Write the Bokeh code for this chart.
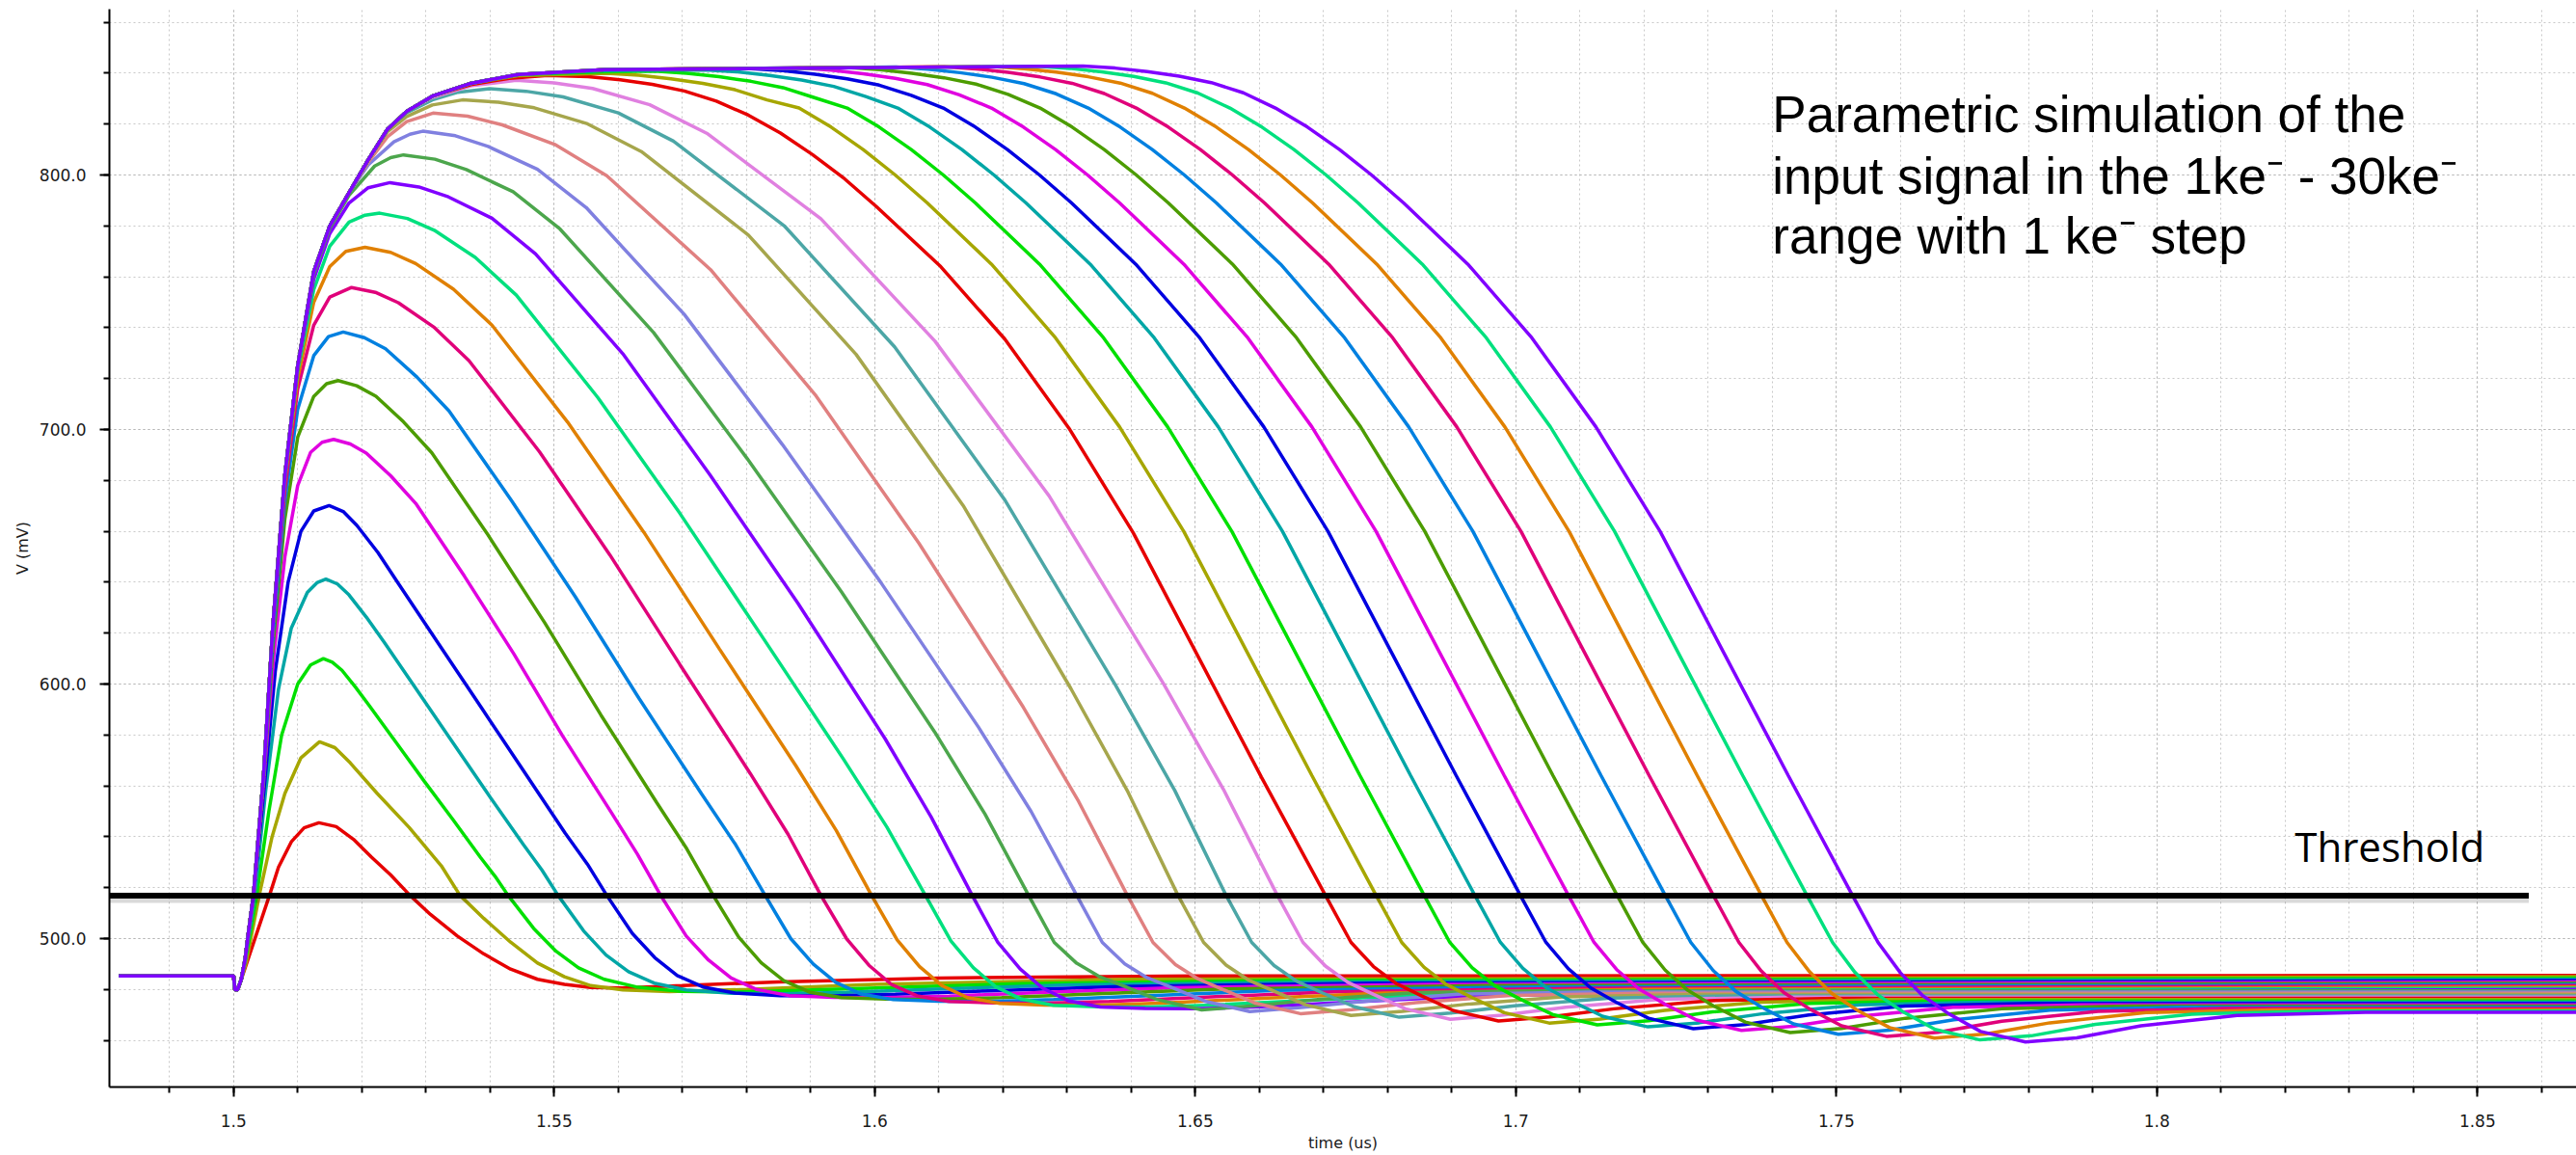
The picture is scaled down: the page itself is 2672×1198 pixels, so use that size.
from bokeh.plotting import figure
from bokeh.models import Range1d, SingleIntervalTicker, CustomJSTickFormatter, PrintfTickFormatter, Label
from bokeh.embed import file_html
from bokeh.resources import INLINE

# ---------------- data (time in us, voltage in mV) ----------------
base_t = [1.4821, 1.5000, 1.5002, 1.5006, 1.5012]
base_v = [485.3, 485.3, 480.0, 479.8, 484.0]
rise_t = [1.5018, 1.5024, 1.5031, 1.5047, 1.5061, 1.5080, 1.5100, 1.5125, 1.5150, 1.5180, 1.5210, 1.5240, 1.5270, 1.5310]
rise_v = [492, 504, 517, 565, 622, 682, 725, 762, 780, 793, 806, 818, 825, 831]

q01_t = base_t + [1.5020, 1.5032, 1.5044, 1.5056, 1.5070, 1.5090, 1.5110, 1.5133, 1.5160, 1.5187, 1.5215, 1.5245, 1.5275, 1.5307, 1.5349, 1.5390, 1.5432, 1.5474, 1.5516, 1.5557, 1.5607, 1.5700, 1.5850, 1.6100, 1.6500, 1.8654]
q01_v = base_v + [490, 499, 508, 517, 528, 538, 543.5, 545.5, 544, 539, 532, 525, 517, 509.5, 501, 494, 488, 484, 482, 480.8, 480.6, 481.5, 483, 484.5, 485.3, 485.5]
q02_t = base_t + [1.5020, 1.5030, 1.5040, 1.5060, 1.5080, 1.5105, 1.5134, 1.5158, 1.5182, 1.5224, 1.5274, 1.5324, 1.5353, 1.5390, 1.5432, 1.5474, 1.5516, 1.5557, 1.5607, 1.5680, 1.5800, 1.6000, 1.6400, 1.8654]
q02_v = base_v + [491, 504, 517, 540, 557, 571, 577.3, 575, 569, 557, 543.6, 528.6, 517, 508, 498.6, 490.4, 485, 481.5, 479.8, 479.2, 480, 482, 484, 485]
q03_t = base_t + [1.5018, 1.5026, 1.5036, 1.5055, 1.5075, 1.5100, 1.5120, 1.5140, 1.5154, 1.5169, 1.5190, 1.5212, 1.5255, 1.5298, 1.5342, 1.5385, 1.5408, 1.5428,
                  1.5468, 1.5503, 1.5538, 1.5578, 1.5628, 1.5698, 1.5778, 1.5878, 1.6028, 1.6228, 1.6628, 1.8654]
q03_v = base_v + [491, 502, 517, 550, 580, 600, 607.5, 610, 608.6, 605.4, 598.8, 591.4, 576.5, 561.6, 546.8, 531.9, 524.4, 517,
                  504, 495, 488.5, 484, 481, 479.3, 479, 479.6, 480.8, 482.3, 483.5, 484.5]
q04_t = base_t + [1.5018, 1.5025, 1.5033, 1.5050, 1.5070, 1.5090, 1.5115, 1.5130, 1.5144, 1.5162, 1.5180, 1.5207, 1.5235, 1.5289, 1.5343, 1.5397, 1.5452, 1.5481, 1.5506,
                  1.5546, 1.5581, 1.5616, 1.5656, 1.5706, 1.5776, 1.5856, 1.5956, 1.6106, 1.6306, 1.6706, 1.8654]
q04_v = base_v + [491.5, 503, 517, 558, 598, 622, 636, 639.8, 641.2, 639.3, 635.0, 626.3, 616.4, 596.5, 576.6, 556.7, 536.9, 526.9, 517,
                  503, 493.5, 487, 482.5, 479.8, 478.5, 478.3, 478.9, 480.2, 481.8, 483, 484]
q05_t = base_t + [1.5018, 1.5024, 1.5031, 1.5048, 1.5065, 1.5085, 1.5105, 1.5125, 1.5149, 1.5171, 1.5192, 1.5225, 1.5257, 1.5322, 1.5387, 1.5452, 1.5517, 1.5552, 1.5582,
                  1.5622, 1.5657, 1.5692, 1.5732, 1.5782, 1.5852, 1.5932, 1.6032, 1.6182, 1.6382, 1.6782, 1.8654]
q05_v = base_v + [492, 504, 517, 560, 605, 640, 660, 668, 670.1, 667.8, 662.4, 651.7, 639.5, 615.0, 590.5, 566.0, 541.5, 529.2, 517,
                  502, 492.5, 485.5, 481, 478.6, 477.6, 477.5, 478.1, 479.5, 481.2, 482.5, 483.5]
q06_t = base_t + [1.5018, 1.5024, 1.5031, 1.5047, 1.5063, 1.5080, 1.5100, 1.5120, 1.5138, 1.5156, 1.5182, 1.5207, 1.5245, 1.5284, 1.5360, 1.5437, 1.5513, 1.5590, 1.5630, 1.5666,
                  1.5706, 1.5741, 1.5776, 1.5816, 1.5866, 1.5936, 1.6016, 1.6116, 1.6266, 1.6466, 1.6866, 1.8654]
q06_v = base_v + [492, 504, 517, 562, 612, 650, 678, 691, 695, 696.1, 694.3, 690.7, 681.8, 671.0, 642.4, 611.9, 579.7, 549.2, 533.1, 517,
                  501, 491.5, 484.5, 480, 477.6, 476.9, 476.8, 477.4, 478.9, 480.7, 482, 483]
q07_t = base_t + [1.5018, 1.5024, 1.5031, 1.5047, 1.5062, 1.5080, 1.5100, 1.5125, 1.5145, 1.5163, 1.5192, 1.5222, 1.5265, 1.5309, 1.5397, 1.5485, 1.5573, 1.5660, 1.5707, 1.5748,
                  1.5788, 1.5823, 1.5858, 1.5898, 1.5948, 1.6018, 1.6098, 1.6198, 1.6348, 1.6548, 1.6948, 1.8654]
q07_v = base_v + [492, 504, 517, 564, 617, 665, 697, 713, 718, 719.2, 717.2, 713.1, 703.0, 690.9, 658.5, 624.2, 587.8, 553.4, 535.2, 517,
                  500.5, 490.5, 483.5, 479, 476.8, 476.2, 476.1, 476.8, 478.3, 480.2, 481.5, 482.5]
q08_t = base_t + [1.5018, 1.5024, 1.5031, 1.5047, 1.5062, 1.5080, 1.5100, 1.5125, 1.5148, 1.5171, 1.5204, 1.5237, 1.5286, 1.5336, 1.5434, 1.5533, 1.5632, 1.5730, 1.5783, 1.5829,
                  1.5869, 1.5904, 1.5939, 1.5979, 1.6029, 1.6099, 1.6179, 1.6279, 1.6429, 1.6629, 1.7029, 1.8654]
q08_v = base_v + [492, 504, 517, 565, 621, 672, 708, 729, 736.5, 738.3, 736.1, 731.7, 720.6, 707.3, 671.9, 634.3, 594.5, 556.8, 536.9, 517,
                  500, 490, 482.8, 478.2, 476, 475.4, 475.3, 476, 477.6, 479.6, 481, 482]
q09_t = base_t + [1.5018, 1.5024, 1.5031, 1.5047, 1.5061, 1.5080, 1.5100, 1.5125, 1.5150, 1.5184, 1.5221, 1.5257, 1.5312, 1.5367, 1.5477, 1.5587, 1.5696, 1.5806, 1.5865, 1.5916,
                  1.5956, 1.5991, 1.6026, 1.6066, 1.6116, 1.6186, 1.6266, 1.6366, 1.6516, 1.6716, 1.7116, 1.8654]
q09_v = base_v + [492, 504, 517, 565, 622, 676, 716, 741, 752, 755.8, 753.9, 749.8, 740.3, 727.1, 691.3, 650.7, 607.7, 564.8, 540.9, 517,
                  500, 489.5, 482, 477.5, 475.3, 474.7, 474.6, 475.3, 477, 479.1, 480.5, 481.5]
q10_t = base_t + [1.5018, 1.5024, 1.5031, 1.5047, 1.5061, 1.5080, 1.5100, 1.5125, 1.5150, 1.5175, 1.5205, 1.5245, 1.5284, 1.5343, 1.5403, 1.5521, 1.5640, 1.5758, 1.5877, 1.5940, 1.5995,
                  1.6035, 1.6070, 1.6105, 1.6145, 1.6195, 1.6265, 1.6345, 1.6445, 1.6595, 1.6795, 1.7195, 1.8654]
q10_v = base_v + [492, 504, 517, 565, 622, 680, 720, 750, 764, 770, 771.6, 769.6, 765.2, 755.1, 741.0, 702.9, 659.6, 613.7, 567.9, 542.5, 517,
                  499.5, 489, 481.5, 476.8, 474.5, 473.9, 473.8, 474.6, 476.4, 478.6, 480, 481]
q11_t = base_t + [1.5018, 1.5024, 1.5031, 1.5047, 1.5061, 1.5080, 1.5100, 1.5125, 1.5150, 1.5180, 1.5205, 1.5228, 1.5271, 1.5313, 1.5377, 1.5441, 1.5568, 1.5696, 1.5824, 1.5951, 1.6019, 1.6079,
                  1.6119, 1.6154, 1.6189, 1.6229, 1.6279, 1.6349, 1.6429, 1.6529, 1.6679, 1.6879, 1.7279, 1.8654]
q11_v = base_v + [492, 504, 517, 565, 622, 681, 723, 755, 772, 781.5, 784.2, 785, 782.9, 778.3, 767.6, 752.8, 712.6, 667.1, 618.8, 570.6, 543.8, 517,
                  499, 488.5, 481, 476.2, 473.8, 473.2, 473.1, 473.9, 475.8, 478.1, 479.5, 480.5]
q12_t = base_t + [1.5018, 1.5024, 1.5031, 1.5047, 1.5061, 1.5080, 1.5100, 1.5125, 1.5150, 1.5180, 1.5210, 1.5244, 1.5289, 1.5335, 1.5403, 1.5471, 1.5607, 1.5743, 1.5880, 1.6016, 1.6088, 1.6152,
                  1.6192, 1.6227, 1.6262, 1.6302, 1.6352, 1.6422, 1.6502, 1.6602, 1.6752, 1.6952, 1.7352, 1.8654]
q12_v = base_v + [492, 504, 517, 565, 622, 682, 725, 759, 777, 789, 795, 797, 795.3, 791.4, 783.0, 769.0, 729.8, 682.2, 631.8, 578.6, 547.8, 517,
                  498.5, 488, 480.5, 475.6, 473.1, 472.5, 472.4, 473.2, 475.2, 477.6, 479, 480]
q13_t = base_t + [1.5018, 1.5024, 1.5031, 1.5047, 1.5061, 1.5080, 1.5100, 1.5125, 1.5150, 1.5180, 1.5220, 1.5245, 1.5265, 1.5314, 1.5363, 1.5436, 1.5509, 1.5655, 1.5801, 1.5948, 1.6094, 1.6172, 1.6240,
                  1.6280, 1.6315, 1.6350, 1.6390, 1.6440, 1.6510, 1.6590, 1.6690, 1.6840, 1.7040, 1.8654]
q13_v = base_v + [492, 504, 517, 565, 622, 682, 725, 761, 779, 792, 803.5, 806.8, 807.9, 806.2, 802.1, 793.4, 778.8, 738.1, 688.6, 636.3, 581.0, 548.9, 517,
                  498.5, 490.3, 485.1, 481.2, 476.1, 472.0, 473.6, 476.0, 478.7, 479.5, 479.5]
q14_t = base_t + [1.5018, 1.5024, 1.5031, 1.5047, 1.5061, 1.5080, 1.5100, 1.5125, 1.5150, 1.5180, 1.5210, 1.5250, 1.5275, 1.5295, 1.5346, 1.5397, 1.5474, 1.5550, 1.5703, 1.5856, 1.6009, 1.6162, 1.6244, 1.6315,
                  1.6355, 1.6390, 1.6425, 1.6465, 1.6515, 1.6585, 1.6665, 1.6765, 1.6915, 1.7115, 1.8654]
q14_v = base_v + [492, 504, 517, 565, 622, 682, 725, 762, 780, 793, 804, 813, 816, 817.2, 815.4, 811.2, 802.2, 787.2, 745.2, 694.1, 640.1, 583.0, 549.9, 517,
                  498.5, 490.1, 484.6, 480.6, 475.4, 471.3, 472.9, 475.4, 478.2, 479.0, 479.0]
q15_t = base_t + [1.5018, 1.5024, 1.5031, 1.5047, 1.5061, 1.5080, 1.5100, 1.5125, 1.5150, 1.5180, 1.5210, 1.5240, 1.5270, 1.5311, 1.5365, 1.5419, 1.5501, 1.5582, 1.5744, 1.5907, 1.6069, 1.6232, 1.6318, 1.6394,
                  1.6434, 1.6469, 1.6504, 1.6544, 1.6594, 1.6664, 1.6744, 1.6844, 1.6994, 1.7194, 1.8654]
q15_v = base_v + [492, 504, 517, 565, 622, 682, 725, 762, 780, 793, 805, 815, 821, 824.3, 823.1, 819.7, 812.0, 799.7, 762.8, 713.7, 655.3, 590.8, 553.9, 517,
                  498.5, 489.8, 484.2, 479.9, 474.6, 470.5, 472.1, 474.8, 477.7, 478.5, 478.5]
q16_t = base_t + [1.5018, 1.5024, 1.5031, 1.5047, 1.5061, 1.5080, 1.5100, 1.5125, 1.5150, 1.5180, 1.5210, 1.5240, 1.5270, 1.5310, 1.5357, 1.5413, 1.5469, 1.5552, 1.5636, 1.5803, 1.5971, 1.6138, 1.6306, 1.6395, 1.6473,
                  1.6513, 1.6548, 1.6583, 1.6623, 1.6673, 1.6743, 1.6823, 1.6923, 1.7073, 1.7273, 1.8654]
q16_v = base_v + [492, 504, 517, 565, 622, 682, 725, 762, 780, 793, 806, 817, 823, 827.5, 829.5, 828.6, 826.4, 820.1, 809.2, 776.4, 729.5, 670.1, 598.2, 557.6, 517,
                  498.5, 489.6, 483.7, 479.3, 473.9, 469.8, 471.4, 474.2, 477.1, 478.0, 478.0]
q17_t = base_t + [1.5018, 1.5024, 1.5031, 1.5047, 1.5061, 1.5080, 1.5100, 1.5125, 1.5150, 1.5180, 1.5210, 1.5240, 1.5270, 1.5310, 1.5350, 1.5399, 1.5456, 1.5514, 1.5600, 1.5686, 1.5859, 1.6031, 1.6203, 1.6376, 1.6468, 1.6548,
                  1.6588, 1.6623, 1.6658, 1.6698, 1.6748, 1.6818, 1.6898, 1.6998, 1.7148, 1.7348, 1.8654]
q17_v = base_v + [492, 504, 517, 565, 622, 682, 725, 762, 780, 793, 806, 818, 824.5, 829.5, 832.5, 833.9, 832.9, 830.7, 824.4, 813.3, 780.0, 732.5, 672.3, 599.4, 558.2, 517,
                  498.5, 489.4, 483.3, 478.7, 473.2, 469.1, 470.7, 473.6, 476.6, 477.5, 477.5]
q18_t = base_t + [1.5018, 1.5024, 1.5031, 1.5047, 1.5061, 1.5080, 1.5100, 1.5125, 1.5150, 1.5180, 1.5210, 1.5240, 1.5270, 1.5310, 1.5370, 1.5441, 1.5500, 1.5560, 1.5649, 1.5738, 1.5916, 1.6094, 1.6272, 1.6450, 1.6544, 1.6628,
                  1.6668, 1.6703, 1.6738, 1.6778, 1.6828, 1.6898, 1.6978, 1.7078, 1.7228, 1.7428, 1.8654]
q18_v = base_v + [492, 504, 517, 565, 622, 682, 725, 762, 780, 793, 806, 818, 825, 830.5, 835, 837.2, 836.2, 834.0, 827.6, 816.4, 782.8, 734.7, 673.9, 600.3, 558.6, 517,
                  498.5, 489.2, 482.8, 478.1, 472.4, 468.3, 469.9, 473.0, 476.1, 477.0, 477.0]
q19_t = base_t + rise_t + [1.5370, 1.5430, 1.5490, 1.5553, 1.5603, 1.5653, 1.5703, 1.5753, 1.5803, 1.5853, 1.5903, 1.5953, 1.6003, 1.6103, 1.6203, 1.6303, 1.6403, 1.6503, 1.6603, 1.6703,
                           1.6743, 1.6778, 1.6813, 1.6853, 1.6903, 1.6973, 1.7053, 1.7153, 1.7303, 1.7503, 1.8654]
q19_v = base_v + rise_v + [835.5, 838, 839.1, 838.6, 837.4, 835.6, 833, 829, 823.5, 816.5, 808, 798.5, 787.5, 764, 735.5, 700.5, 659.5, 611.5, 563.5, 517,
                           498.5, 489.0, 482.4, 477.5, 471.7, 467.6, 469.2, 472.4, 475.6, 476.5, 476.5]
q20_t = base_t + rise_t + [1.5370, 1.5444, 1.5582, 1.5632, 1.5682, 1.5732, 1.5782, 1.5832, 1.5882, 1.5932, 1.5982, 1.6032, 1.6082, 1.6182, 1.6282, 1.6382, 1.6482, 1.6582, 1.6682, 1.6782,
                           1.6822, 1.6857, 1.6892, 1.6932, 1.6982, 1.7052, 1.7132, 1.7232, 1.7382, 1.7582, 1.8654]
q20_v = base_v + rise_v + [836, 839, 840, 839.2, 837.8, 836, 833.5, 829.5, 826.3, 818.8, 810, 800, 789, 765, 736, 701, 660, 612, 564, 517,
                           498.5, 488.7, 481.9, 476.8, 470.9, 466.8, 468.4, 471.8, 475.0, 476.0, 476.0]
q21_t = base_t + rise_t + [1.5370, 1.5444, 1.5578, 1.5657, 1.5707, 1.5757, 1.5807, 1.5857, 1.5907, 1.5957, 1.6007, 1.6057, 1.6107, 1.6157, 1.6257, 1.6357, 1.6457, 1.6557, 1.6657, 1.6757, 1.6857,
                           1.6897, 1.6932, 1.6967, 1.7007, 1.7057, 1.7127, 1.7207, 1.7307, 1.7457, 1.7657, 1.8654]
q21_v = base_v + rise_v + [836, 839.5, 840.5, 840.8, 840.0, 838.6, 836.8, 834.3, 830.3, 826.3, 818.8, 810, 800, 789, 765, 736, 701, 660, 612, 564, 517,
                           498.5, 488.5, 481.5, 476.2, 470.2, 466.1, 467.7, 471.2, 474.5, 475.5, 475.5]
q22_t = base_t + rise_t + [1.5370, 1.5444, 1.5578, 1.5736, 1.5786, 1.5836, 1.5886, 1.5936, 1.5986, 1.6036, 1.6086, 1.6136, 1.6186, 1.6236, 1.6336, 1.6436, 1.6536, 1.6636, 1.6736, 1.6836, 1.6936,
                           1.6976, 1.7011, 1.7046, 1.7086, 1.7136, 1.7206, 1.7286, 1.7386, 1.7536, 1.7736, 1.8654]
q22_v = base_v + rise_v + [836, 839.5, 841, 841.3, 840.5, 839.1, 837.3, 834.8, 830.8, 826.3, 818.8, 810, 800, 789, 765, 736, 701, 660, 612, 564, 517,
                           498.5, 488.3, 481.0, 475.5, 469.4, 465.3, 466.9, 470.5, 474.0, 475.0, 475.0]
q23_t = base_t + rise_t + [1.5370, 1.5444, 1.5578, 1.5807, 1.5857, 1.5907, 1.5957, 1.6007, 1.6057, 1.6107, 1.6157, 1.6207, 1.6257, 1.6307, 1.6407, 1.6507, 1.6607, 1.6707, 1.6807, 1.6907, 1.7007,
                           1.7047, 1.7082, 1.7117, 1.7157, 1.7207, 1.7277, 1.7357, 1.7457, 1.7607, 1.7807, 1.8654]
q23_v = base_v + rise_v + [836, 839.5, 841.4, 841.8, 841.0, 839.6, 837.8, 835.3, 831.3, 826.3, 818.8, 810, 800, 789, 765, 736, 701, 660, 612, 564, 517,
                           498.5, 488.1, 480.6, 474.9, 468.7, 464.6, 466.2, 470.0, 473.5, 474.5, 474.5]
q24_t = base_t + rise_t + [1.5370, 1.5444, 1.5578, 1.5882, 1.5932, 1.5982, 1.6032, 1.6082, 1.6132, 1.6182, 1.6232, 1.6282, 1.6332, 1.6382, 1.6482, 1.6582, 1.6682, 1.6782, 1.6882, 1.6982, 1.7082,
                           1.7122, 1.7157, 1.7192, 1.7232, 1.7282, 1.7352, 1.7432, 1.7532, 1.7682, 1.7882, 1.8654]
q24_v = base_v + rise_v + [836, 839.5, 841.4, 842, 841.2, 839.8, 838, 835.5, 831.5, 826.3, 818.8, 810, 800, 789, 765, 736, 701, 660, 612, 564, 517,
                           498.5, 487.9, 480.2, 474.3, 468.0, 463.9, 465.5, 469.4, 473.0, 474.0, 474.0]
q25_t = base_t + rise_t + [1.5370, 1.5444, 1.5578, 1.5958, 1.6008, 1.6058, 1.6108, 1.6158, 1.6208, 1.6258, 1.6308, 1.6358, 1.6408, 1.6458, 1.6558, 1.6658, 1.6758, 1.6858, 1.6958, 1.7058, 1.7158,
                           1.7198, 1.7233, 1.7268, 1.7308, 1.7358, 1.7428, 1.7508, 1.7608, 1.7758, 1.7958, 1.8654]
q25_v = base_v + rise_v + [836, 839.5, 841.4, 842.2, 841.4, 840.0, 838.2, 835.7, 831.7, 826.3, 818.8, 810, 800, 789, 765, 736, 701, 660, 612, 564, 517,
                           498.5, 487.6, 479.7, 473.6, 467.2, 463.1, 464.7, 468.7, 472.4, 473.5, 473.5]
q26_t = base_t + rise_t + [1.5370, 1.5444, 1.5578, 1.6033, 1.6083, 1.6133, 1.6183, 1.6233, 1.6283, 1.6333, 1.6383, 1.6433, 1.6483, 1.6533, 1.6633, 1.6733, 1.6833, 1.6933, 1.7033, 1.7133, 1.7233,
                           1.7273, 1.7308, 1.7343, 1.7383, 1.7433, 1.7503, 1.7583, 1.7683, 1.7833, 1.8033, 1.8654]
q26_v = base_v + rise_v + [836, 839.5, 841.4, 842.4, 841.6, 840.2, 838.4, 835.9, 831.9, 826.3, 818.8, 810, 800, 789, 765, 736, 701, 660, 612, 564, 517,
                           498.5, 487.4, 479.3, 473.1, 466.5, 462.4, 464.0, 468.1, 471.9, 473.0, 473.0]
q27_t = base_t + rise_t + [1.5370, 1.5444, 1.5578, 1.6108, 1.6158, 1.6208, 1.6258, 1.6308, 1.6358, 1.6408, 1.6458, 1.6508, 1.6558, 1.6608, 1.6708, 1.6808, 1.6908, 1.7008, 1.7108, 1.7208, 1.7308,
                           1.7348, 1.7383, 1.7418, 1.7458, 1.7508, 1.7578, 1.7658, 1.7758, 1.7908, 1.8108, 1.8654]
q27_v = base_v + rise_v + [836, 839.5, 841.4, 842.5, 841.7, 840.3, 838.5, 836.0, 832.0, 826.3, 818.8, 810, 800, 789, 765, 736, 701, 660, 612, 564, 517,
                           498.5, 487.2, 478.8, 472.4, 465.7, 461.6, 463.2, 467.5, 471.4, 472.5, 472.5]
q28_t = base_t + rise_t + [1.5370, 1.5444, 1.5578, 1.6183, 1.6233, 1.6283, 1.6333, 1.6383, 1.6433, 1.6483, 1.6533, 1.6583, 1.6633, 1.6683, 1.6783, 1.6883, 1.6983, 1.7083, 1.7183, 1.7283, 1.7383,
                           1.7423, 1.7458, 1.7493, 1.7533, 1.7583, 1.7653, 1.7733, 1.7833, 1.7983, 1.8183, 1.8654]
q28_v = base_v + rise_v + [836, 839.5, 841.4, 842.6, 841.8, 840.4, 838.6, 836.1, 832.1, 826.3, 818.8, 810, 800, 789, 765, 736, 701, 660, 612, 564, 517,
                           498.5, 487.0, 478.4, 471.8, 465.0, 460.9, 462.5, 466.9, 470.9, 472.0, 472.0]
q29_t = base_t + rise_t + [1.5370, 1.5444, 1.5578, 1.6254, 1.6304, 1.6354, 1.6404, 1.6454, 1.6504, 1.6554, 1.6604, 1.6654, 1.6704, 1.6754, 1.6854, 1.6954, 1.7054, 1.7154, 1.7254, 1.7354, 1.7454,
                           1.7494, 1.7529, 1.7564, 1.7604, 1.7654, 1.7724, 1.7804, 1.7904, 1.8054, 1.8254, 1.8654]
q29_v = base_v + rise_v + [836, 839.5, 841.4, 842.7, 841.9, 840.5, 838.7, 836.2, 832.2, 826.3, 818.8, 810, 800, 789, 765, 736, 701, 660, 612, 564, 517,
                           498.5, 486.7, 478.0, 471.2, 464.3, 460.2, 461.8, 466.3, 470.3, 471.5, 471.5]
q30_t = base_t + rise_t + [1.5370, 1.5444, 1.5578, 1.6325, 1.6375, 1.6425, 1.6475, 1.6525, 1.6575, 1.6625, 1.6675, 1.6725, 1.6775, 1.6825, 1.6925, 1.7025, 1.7125, 1.7225, 1.7325, 1.7425, 1.7525,
                           1.7565, 1.7600, 1.7635, 1.7675, 1.7725, 1.7795, 1.7875, 1.7975, 1.8125, 1.8325, 1.8654]
q30_v = base_v + rise_v + [836, 839.5, 841.4, 842.8, 842.0, 840.6, 838.8, 836.3, 832.3, 826.3, 818.8, 810, 800, 789, 765, 736, 701, 660, 612, 564, 517,
                           498.5, 486.5, 477.5, 470.5, 463.5, 459.4, 461.0, 465.7, 469.8, 471.0, 471.0]

series_t = [q01_t, q02_t, q03_t, q04_t, q05_t, q06_t, q07_t, q08_t, q09_t, q10_t,
            q11_t, q12_t, q13_t, q14_t, q15_t, q16_t, q17_t, q18_t, q19_t, q20_t,
            q21_t, q22_t, q23_t, q24_t, q25_t, q26_t, q27_t, q28_t, q29_t, q30_t]
series_v = [q01_v, q02_v, q03_v, q04_v, q05_v, q06_v, q07_v, q08_v, q09_v, q10_v,
            q11_v, q12_v, q13_v, q14_v, q15_v, q16_v, q17_v, q18_v, q19_v, q20_v,
            q21_v, q22_v, q23_v, q24_v, q25_v, q26_v, q27_v, q28_v, q29_v, q30_v]

palette = ["#E60000", "#A6A600", "#00E000", "#00A6A6", "#0000E0", "#E000E0",
           "#4C9C00", "#0080E0", "#E0007A", "#E08000", "#00E07E", "#8000FF",
           "#4CA64C", "#8080E0", "#E08080", "#A6A64C", "#4CA6A6", "#E080E0"]

threshold_v = 516.9
threshold_t = [1.4806, 1.8580]

x_start, x_end = 1.48063, 1.86544
y_start, y_end = 441.67, 865.15

# ---------------- figure ----------------
p = figure(width=2672, height=1198, output_backend="svg", toolbar_location=None,
           x_range=Range1d(x_start, x_end), y_range=Range1d(y_start, y_end),
           min_border_left=113, min_border_right=0, min_border_top=9, min_border_bottom=71)
p.outline_line_color = None
p.background_fill_color = "white"
p.border_fill_color = "white"

xt = SingleIntervalTicker(interval=0.05, num_minor_ticks=5)
yt = SingleIntervalTicker(interval=100, num_minor_ticks=5)
p.xaxis.ticker = xt
p.yaxis.ticker = yt
p.xgrid.ticker = xt
p.ygrid.ticker = yt

for g in (p.xgrid, p.ygrid):
    g.grid_line_color = "#b4b4b4"
    g.grid_line_dash = "2 3"
    g.grid_line_width = 1
    g.minor_grid_line_color = "#c8c8c8"
    g.minor_grid_line_dash = "2 3"
    g.minor_grid_line_width = 1

p.xaxis.formatter = CustomJSTickFormatter(code="return (Math.round(tick*100)/100).toString();")
p.yaxis.formatter = PrintfTickFormatter(format="%.1f")

for ax in (p.xaxis, p.yaxis):
    ax.axis_line_color = "black"
    ax.axis_line_width = 2
    ax.major_tick_line_color = "black"
    ax.minor_tick_line_color = "black"
    ax.major_tick_line_width = 2
    ax.minor_tick_line_width = 2
    ax.major_tick_in = 0
    ax.major_tick_out = 10
    ax.minor_tick_in = 0
    ax.minor_tick_out = 6
    ax.major_label_text_font = "DejaVu Sans"
    ax.major_label_text_font_size = "17px"
    ax.major_label_text_color = "#1a1a1a"
    ax.axis_label_text_font = "DejaVu Sans"
    ax.axis_label_text_font_size = "16px"
    ax.axis_label_text_font_style = "normal"
    ax.axis_label_text_color = "#1a1a1a"
p.yaxis.major_label_standoff = 14
p.yaxis.axis_label_standoff = 5
p.xaxis.major_label_standoff = 18
p.xaxis.axis_label_standoff = 4

p.xaxis.axis_label = "time (us)"
p.yaxis.axis_label = "V (mV)"

for i, (ts, vs) in enumerate(zip(series_t, series_v)):
    p.line(ts, vs, line_color=palette[i % len(palette)], line_width=3.5)

# threshold line with a soft shadow
p.line(threshold_t, [threshold_v - 1.4, threshold_v - 1.4], line_color="#000000", line_alpha=0.15, line_width=8)
p.line(threshold_t, [threshold_v, threshold_v], line_color="black", line_width=6)

p.add_layout(Label(x=1.8215, y=536.4, text="Threshold", text_font="Open Sans",
                   text_font_size="42px", text_color="black", text_baseline="alphabetic"))

note_font = "Liberation Sans"
p.add_layout(Label(x=1.7400, y=823.9, text="Parametric simulation of the", text_font=note_font,
                   text_font_size="53px", text_color="black", text_baseline="alphabetic"))
p.add_layout(Label(x=1.7400, y=799.6, text="input signal in the 1ke\u207b - 30ke\u207b", text_font=note_font,
                   text_font_size="53px", text_color="black", text_baseline="alphabetic"))
p.add_layout(Label(x=1.7400, y=776.1, text="range with 1 ke\u207b step", text_font=note_font,
                   text_font_size="53px", text_color="black", text_baseline="alphabetic"))

open("out.html", "w").write(file_html(p, INLINE))
